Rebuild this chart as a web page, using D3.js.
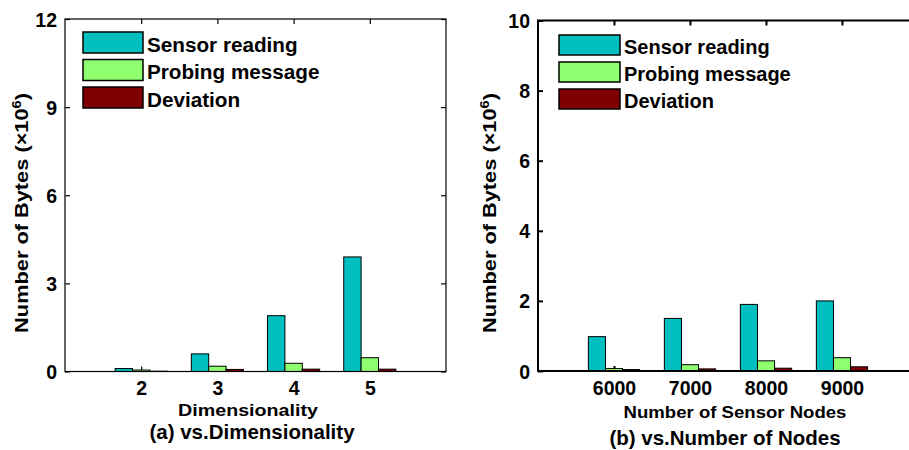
<!DOCTYPE html>
<html>
<head>
<meta charset="utf-8">
<script src="https://cdn.jsdelivr.net/npm/d3@7/dist/d3.min.js"></script>
<style>
  body { margin: 0; background: #fff; }
  svg { display: block; }
  text { font-family: "Liberation Sans", Arial, Helvetica, sans-serif; font-weight: bold; fill: #000; }
</style>
</head>
<body>
<svg id="chart" width="909" height="450"></svg>
<script>
// ---- data ----
const seriesNames = ["Sensor reading", "Probing message", "Deviation"];
const seriesColors = ["#00BFBF", "#8FFF70", "#7F0000"];

const dimensions = [2, 3, 4, 5];
const sensorA    = [0.1, 0.6, 1.9, 3.9];
const probingA   = [0.05, 0.18, 0.28, 0.47];
const deviationA = [0.01, 0.07, 0.08, 0.08];
const yTicksA    = [0, 3, 6, 9, 12];

const nodeCounts = [6000, 7000, 8000, 9000];
const sensorB    = [0.98, 1.5, 1.9, 2.0];
const probingB   = [0.07, 0.18, 0.29, 0.38];
const deviationB = [0.04, 0.06, 0.08, 0.12];
const yTicksB    = [0, 2, 4, 6, 8, 10];

const yTitleMain = "Number of Bytes (×10";
const yTitleSup = "6";

const svg = d3.select("#chart");

function panel(cfg) {
  const g = svg.append("g");
  const x = d3.scaleLinear().domain(cfg.xDomain).range(cfg.xRange);
  const y = d3.scaleLinear().domain(cfg.yDomain).range(cfg.yRange);
  const unit = cfg.barUnit;
  const series = [cfg.s1, cfg.s2, cfg.s3];
  const lw = cfg.lineWidth;

  // axes with inward ticks (drawn first so bars cover them)
  const ax = g.append("g").attr("transform", `translate(0,${cfg.yRange[0]})`)
    .call(d3.axisBottom(x).tickValues(cfg.cats).tickSizeInner(-5).tickSizeOuter(0).tickPadding(10).tickFormat(d3.format("d")));
  const axTop = g.append("g").attr("transform", `translate(0,${cfg.yRange[1]})`)
    .call(d3.axisTop(x).tickValues(cfg.cats).tickSizeInner(-5).tickSizeOuter(0).tickFormat(""));
  const ay = g.append("g").attr("transform", `translate(${cfg.xRange[0]},0)`)
    .call(d3.axisLeft(y).tickValues(cfg.yTicks).tickSizeInner(-5).tickSizeOuter(0).tickPadding(8).tickFormat(d3.format("d")));
  const ayR = g.append("g").attr("transform", `translate(${cfg.xRange[1]},0)`)
    .call(d3.axisRight(y).tickValues(cfg.yTicks).tickSizeInner(-5).tickSizeOuter(0).tickFormat(""));
  [ax, axTop, ay, ayR].forEach(a => {
    a.select(".domain").remove();
    a.selectAll("line").attr("stroke", "#000").attr("stroke-width", lw);
    a.selectAll("text").style("font-size", "19.5px").attr("font-family", null);
  });
  ax.selectAll("text").attr("dy", "0.71em");
  ay.selectAll("text").attr("dy", "0.36em");

  // bars
  series.forEach((vals, si) => {
    g.append("g").selectAll("rect").data(cfg.cats.map((c, i) => ({c, v: vals[i]})))
      .join("rect")
      .attr("x", d => x(d.c + (si - 1.5) * unit))
      .attr("width", d => x(d.c + (si - 0.5) * unit) - x(d.c + (si - 1.5) * unit))
      .attr("y", d => y(d.v))
      .attr("height", d => y(0) - y(d.v))
      .attr("fill", seriesColors[si])
      .attr("stroke", "#000")
      .attr("stroke-width", 1);
  });

  // box
  g.append("rect")
    .attr("x", cfg.xRange[0]).attr("y", cfg.yRange[1])
    .attr("width", cfg.xRange[1] - cfg.xRange[0])
    .attr("height", cfg.yRange[0] - cfg.yRange[1])
    .attr("fill", "none").attr("stroke", "#000").attr("stroke-width", lw);

  // legend
  seriesNames.forEach((name, i) => {
    const ly = cfg.legend.y + i * cfg.legend.step;
    g.append("rect").attr("x", cfg.legend.x).attr("y", ly)
      .attr("width", cfg.legend.w).attr("height", cfg.legend.h)
      .attr("fill", seriesColors[i]).attr("stroke", "#000").attr("stroke-width", 1.5);
    g.append("text").attr("x", cfg.legend.x + cfg.legend.w + 4).attr("y", ly + cfg.legend.h - 1.5)
      .style("font-size", cfg.legend.fs + "px").text(name);
  });

  // x title (stretched to match width)
  const xt = g.append("text").attr("text-anchor", "middle").style("font-size", "17px").text(cfg.xTitle);
  const xw = xt.node().getComputedTextLength();
  xt.attr("transform", `translate(${cfg.xTitlePos[0]},${cfg.xTitlePos[1]}) scale(${cfg.xTitleW / xw},1)`);

  // subtitle
  g.append("text").attr("text-anchor", "middle").attr("x", cfg.subPos[0]).attr("y", cfg.subPos[1])
    .style("font-size", "20.5px").text(cfg.sub);

  // y title
  const yt = g.append("text").attr("text-anchor", "middle").style("font-size", "18px");
  yt.append("tspan").text(yTitleMain);
  yt.append("tspan").attr("dy", -7).style("font-size", "12px").text(yTitleSup);
  yt.append("tspan").attr("dy", 7).text(")");
  const yw = yt.node().getComputedTextLength();
  yt.attr("transform", `translate(${cfg.yTitlePos[0]},${cfg.yTitlePos[1]}) rotate(-90) scale(${240 / yw},1)`);
}

panel({
  cats: dimensions, s1: sensorA, s2: probingA, s3: deviationA,
  xDomain: [1, 6], xRange: [65, 446], yDomain: [0, 12], yRange: [371.5, 19],
  yTicks: yTicksA, barUnit: 0.228, lineWidth: 1.2,
  legend: {x: 83, y: 32, step: 27.5, w: 60, h: 21, fs: 20.7},
  xTitle: "Dimensionality", xTitlePos: [248, 415.5], xTitleW: 140,
  sub: "(a) vs.Dimensionality", subPos: [252, 439],
  yTitlePos: [28, 213]
});

panel({
  cats: nodeCounts, s1: sensorB, s2: probingB, s3: deviationB,
  xDomain: [5000, 10000], xRange: [538, 918], yDomain: [0, 10], yRange: [371, 20.5],
  yTicks: yTicksB, barUnit: 225, lineWidth: 2,
  legend: {x: 559, y: 35, step: 27, w: 61, h: 20, fs: 20},
  xTitle: "Number of Sensor Nodes", xTitlePos: [735, 418], xTitleW: 223,
  sub: "(b) vs.Number of Nodes", subPos: [725, 445],
  yTitlePos: [496, 213]
});
</script>
</body>
</html>
